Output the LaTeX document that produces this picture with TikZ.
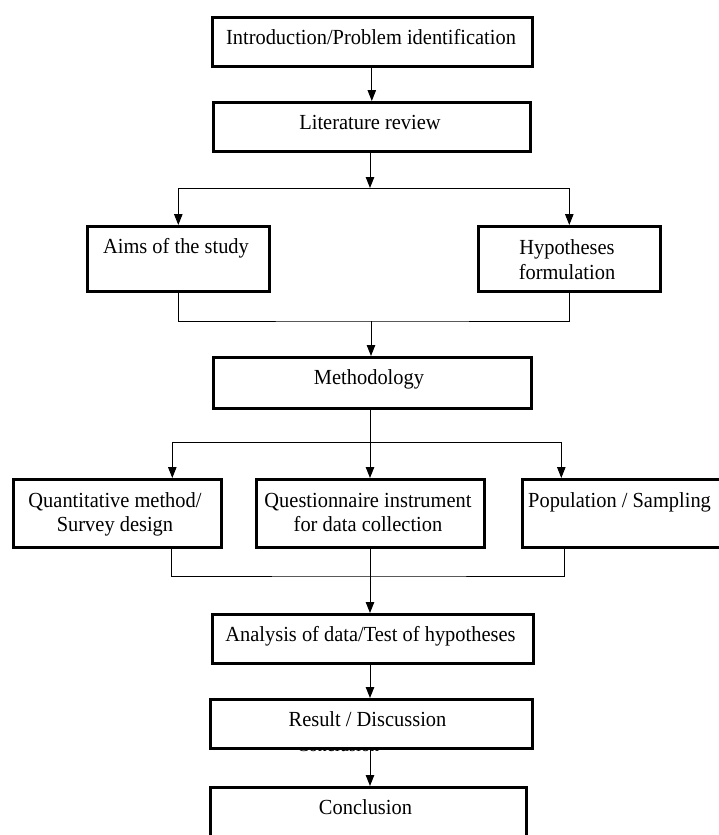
\documentclass[tikz,border=0pt]{standalone}
\usepackage{fontspec}
\setmainfont{Liberation Serif}[FakeStretch=0.95]
\usetikzlibrary{arrows.meta,calc}
\begin{document}
\begin{tikzpicture}[x=1pt,y=-1pt,
  box/.style={draw, line width=2.6pt, fill=white, inner sep=0pt, anchor=north west},
  txt/.style={font=\fontsize{21.5}{24.5}\selectfont, inner sep=0pt, anchor=base, align=center},
  con/.style={line width=1pt},
  arr/.style={con, -{Triangle[length=11pt,width=8.5pt]}}]
\useasboundingbox (0,0) rectangle (719,835);
\clip (0,0) rectangle (719,835);
% partly hidden text under the Result box
\node[txt, font=\fontsize{19}{22}\selectfont] (ghost) at (338,751) {Conclusion};
% boxes
\node[box, minimum width=320pt, minimum height=49pt] (intro) at (211,16) {};
\node[box, minimum width=317pt, minimum height=49pt] (lit) at (212,101) {};
\node[box, minimum width=182pt, minimum height=65pt] (aims) at (86,225) {};
\node[box, minimum width=182pt, minimum height=65pt] (hyp) at (477,225) {};
\node[box, minimum width=318pt, minimum height=51pt] (meth) at (212,356) {};
\node[box, minimum width=208pt, minimum height=68pt] (quant) at (12,478) {};
\node[box, minimum width=228pt, minimum height=68pt] (ques) at (255,478) {};
\node[box, minimum width=240pt, minimum height=68pt] (pop) at (521,478) {};
\node[box, minimum width=321pt, minimum height=49pt] (ana) at (211,613) {};
\node[box, minimum width=322pt, minimum height=49pt] (res) at (209,698) {};
\node[box, minimum width=316pt, minimum height=70pt] (conc) at (209,786) {};
% texts (anchor base = baseline of the last line)
\node[txt] (tintro) at (371,44) {Introduction/Problem identification};
\node[txt] (tlit) at (370,129) {Literature review};
\node[txt] (taims) at (176,253) {Aims of the study};
\node[txt] (thyp) at (567,279) {Hypotheses\\formulation};
\node[txt] (tmeth) at (369,384) {Methodology};
\node[txt] (tquant) at (115,531.5) {Quantitative method/\\Survey design};
\node[txt] (tques) at (368,531.5) {Questionnaire instrument\\for data collection};
\node[txt, anchor=base west] (tpop) at (528,507) {Population / Sampling};
\node[txt] (tana) at (370.5,641) {Analysis of data/Test of hypotheses};
\node[txt] (tres) at (367.5,726) {Result / Discussion};
\node[txt] (tconc) at (365.5,814) {Conclusion};
% connectors
\draw[arr] (intro.south -| lit.south) -- (lit.north);
\coordinate (s1) at (370,188);
\draw[arr] (lit.south -| s1) -- (s1);
\draw[arr] (s1) -| (aims.north);
\draw[arr] (s1) -| (hyp.north);
\coordinate (j1) at (371,321);
\draw[con] (aims.south) |- (j1) -| (hyp.south);
\draw[arr] (j1) -- (meth.north -| j1);
\coordinate (s2) at (370,442);
\draw[con] (meth.south -| s2) -- (s2);
\draw[arr] (s2) -| ([xshift=55pt]quant.north);
\draw[arr] (s2) -- (ques.north -| s2);
\draw[arr] (s2) -| ([xshift=-81pt]pop.north);
\coordinate (j2) at (370,576);
\draw[con] ([xshift=54pt]quant.south) |- (j2) -| ([xshift=-78pt]pop.south);
\draw[arr] (ques.south -| j2) -- (ana.north -| j2);
\draw[arr] (ana.south -| j2) -- (res.north -| j2);
\draw[arr] (res.south -| j2) -- (conc.north -| j2);
\end{tikzpicture}
\end{document}
